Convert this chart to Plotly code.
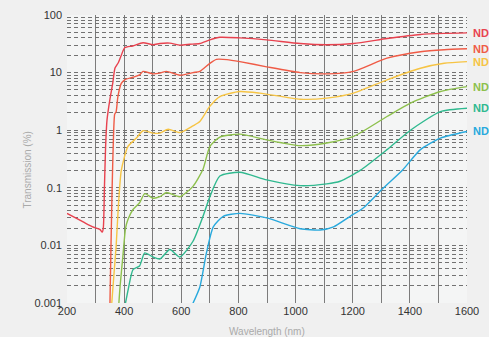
import math
import plotly.graph_objects as go

# ---- data (wavelength nm, transmission %) ----
wl_a = [200, 230, 260, 290, 315, 323, 327, 331, 335, 340, 350, 360, 368, 380, 390, 402, 430, 466, 501, 525, 560,
        595, 630, 665, 700, 735, 805, 899, 1016, 1109, 1203, 1320, 1437, 1520, 1600]
t_a = [0.036, 0.030, 0.025, 0.021, 0.019, 0.017, 0.02, 0.1, 0.5, 1.5, 3.4, 6.5, 12, 15, 20, 27, 29, 33, 30.5, 32, 32.5,
       30, 31, 32, 37, 41, 40, 37, 32, 30.5, 32, 39, 46, 48, 49]

wl_b = [350, 354, 358, 362, 367, 372, 378, 390, 402, 431, 454, 466, 501, 525, 548, 595, 641, 665, 700, 723, 760,
        805, 899, 1016, 1109, 1203, 1320, 1437, 1520, 1600]
t_b = [0.0008, 0.01, 0.1, 0.6, 1.9, 2.1, 3.8, 6.5, 7.5, 8.3, 9.1, 10.5, 9.5, 9.8, 10.5, 9.0, 10, 10.5, 14.5, 17, 16.8,
       15.5, 12.6, 10, 9.5, 10.5, 17.8, 23, 25, 26]

wl_c = [356, 364, 372, 380, 390, 413, 443, 466, 501, 525, 554, 595, 641, 665, 700, 735, 805, 875, 1016, 1109, 1203,
        1320, 1437, 1520, 1600]
t_c = [0.0009, 0.003, 0.0097, 0.05, 0.2, 0.52, 0.73, 0.98, 0.89, 0.89, 1.04, 0.91, 1.19, 1.41, 2.6, 3.84, 4.7, 4.4,
       3.45, 3.6, 4.4, 7.5, 11.9, 14.5, 15.5]

wl_d = [381, 386, 395, 405, 413, 431, 454, 472, 501, 525, 548, 595, 641, 676, 700, 735, 805, 899, 1016, 1109, 1203,
        1320, 1402, 1507, 1600]
t_d = [0.0009, 0.002, 0.006, 0.02, 0.028, 0.042, 0.055, 0.079, 0.066, 0.07, 0.083, 0.07, 0.106, 0.21, 0.52, 0.76,
       0.855, 0.68, 0.54, 0.6, 0.78, 1.73, 2.95, 4.7, 5.7]

wl_e = [403, 415, 431, 454, 472, 501, 525, 560, 595, 641, 676, 700, 735, 805, 899, 1016, 1109, 1156, 1226, 1320,
        1402, 1507, 1600]
t_e = [0.0009, 0.0018, 0.0038, 0.0044, 0.0074, 0.0063, 0.0058, 0.0085, 0.0063, 0.0118, 0.032, 0.07, 0.16, 0.186,
       0.137, 0.109, 0.117, 0.13, 0.2, 0.46, 1.0, 2.1, 2.4]

wl_f = [637, 665, 688, 712, 747, 805, 899, 1016, 1086, 1133, 1191, 1238, 1308, 1373, 1437, 1507, 1600]
t_f = [0.0009, 0.0019, 0.0074, 0.021, 0.032, 0.036, 0.03, 0.0195, 0.0185, 0.021, 0.032, 0.045, 0.1, 0.2, 0.46,
       0.73, 0.95]

series_names = ["ND", "ND", "ND", "ND", "ND", "ND"]
colors = ["#e8424f", "#ef5b46", "#f6c444", "#8dc04c", "#2fb98f", "#28a9dd"]

x_ticks = [200, 400, 600, 800, 1000, 1200, 1400, 1600]
x_grid = [300, 400, 500, 600, 700, 800, 900, 1000, 1100, 1200, 1300, 1400, 1500]
y_ticks = [0.001, 0.01, 0.1, 1, 10, 100]
y_labels = ["0.001", "0.01", "0.1", "1", "10", "100"]
y_minor = [m * d for d in [0.001, 0.01, 0.1, 1, 10] for m in range(2, 10)]

fig = go.Figure()
all_wl = [wl_a, wl_b, wl_c, wl_d, wl_e, wl_f]
all_t = [t_a, t_b, t_c, t_d, t_e, t_f]
for wl, t, c, n in zip(all_wl, all_t, colors, series_names):
    fig.add_trace(go.Scatter(x=wl, y=t, mode="lines", name=n,
                             line=dict(color=c, width=1.4, shape="spline", smoothing=0.6),
                             showlegend=False, hoverinfo="skip"))
    fig.add_annotation(x=wl[-1], y=math.log10(t[-1]), xref="x", yref="y",
                       text="<b>%s</b>" % n, showarrow=False, xanchor="left", yanchor="middle",
                       xshift=4, font=dict(color=c, size=11, family="Liberation Sans"))

grid_style = dict(gridcolor="#727272", griddash="4px,3px", gridwidth=1)

fig.update_layout(
    width=489, height=337,
    margin=dict(l=67, r=22, t=15, b=34, autoexpand=False),
    paper_bgcolor="#f0f0f0",
    plot_bgcolor="#f4f5f5",
    font=dict(family="Liberation Sans", size=11, color="#333333"),
    xaxis=dict(range=[200, 1600], tickvals=x_ticks, showgrid=False, zeroline=False, showline=False,
               ticks="", tickfont=dict(size=11, color="#333333"), automargin=False,
               minor=dict(tickvals=x_grid, showgrid=True, gridcolor="#7c7c7c", gridwidth=1.3, ticks="")),
    yaxis=dict(type="log", range=[-3, 2], tickvals=y_ticks, ticktext=y_labels, showgrid=True,
               zeroline=False, showline=False, ticks="", tickfont=dict(size=11, color="#333333"),
               ticklabelstandoff=4, automargin=False,
               minor=dict(tickvals=y_minor, showgrid=True, ticks="", **grid_style), **grid_style),
)
fig.add_annotation(text="Wavelength (nm)", xref="paper", yref="paper", x=0.5, y=0, yshift=-28,
                   showarrow=False, yanchor="middle", font=dict(size=10, color="#aaaaaa"))
fig.add_annotation(text="Transmission (%)", xref="paper", yref="paper", x=0, xshift=-39, y=0.46,
                   showarrow=False, textangle=-90, xanchor="center", yanchor="middle",
                   font=dict(size=10, color="#aaaaaa"))

fig.write_html("out.html", config={"displayModeBar": False},
               post_script="document.body.style.margin='0';document.body.style.overflow='hidden';")
